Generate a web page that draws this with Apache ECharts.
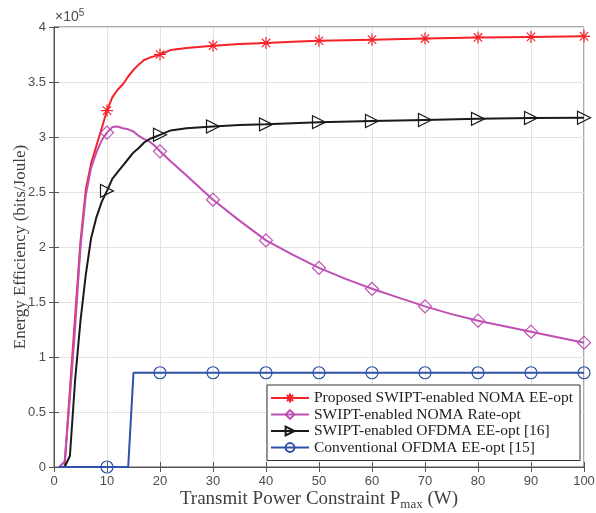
<!DOCTYPE html>
<html>
<head>
<meta charset="utf-8">
<script src="https://cdn.jsdelivr.net/npm/echarts@6/dist/echarts.min.js"></script>
<style>html,body{margin:0;padding:0;background:#fff;}#c{width:596px;height:513px;}</style>
</head>
<body>
<div id="c"></div>
<script>
// values in units of 1e5 bits/Joule
const proposedX = [1,2,3,4,5,6,7,8,9,10,11,12,13,14,15,16,17,18,19,20,22,25,30,35,40,45,50,60,70,80,90,100];
const proposedY = [0,0,0.7,1.38,2.05,2.52,2.76,2.92,3.08,3.24,3.36,3.43,3.48,3.55,3.61,3.66,3.70,3.72,3.735,3.75,3.79,3.81,3.83,3.845,3.855,3.865,3.875,3.885,3.895,3.905,3.91,3.915];

const rateX = [1,2,3,4,5,6,7,8,9,10,11,12,13,14,15,16,17,18,19,20,22,25,30,35,40,45,50,55,60,65,70,75,80,85,90,95,100];
const rateY = [0,0.05,0.63,1.28,2.0,2.47,2.72,2.86,2.97,3.04,3.09,3.095,3.08,3.07,3.05,3.01,2.98,2.96,2.92,2.87,2.78,2.65,2.43,2.24,2.06,1.93,1.81,1.71,1.62,1.54,1.46,1.39,1.33,1.28,1.23,1.18,1.13];

const ofdmaX = [1,2,3,4,5,6,7,8,9,10,11,12,13,14,15,16,17,18,19,20,22,25,30,35,40,50,60,70,80,90,100];
const ofdmaY = [0,0,0.1,0.8,1.33,1.75,2.08,2.27,2.41,2.51,2.62,2.68,2.74,2.80,2.86,2.90,2.95,2.98,3.0,3.02,3.06,3.08,3.095,3.11,3.115,3.135,3.145,3.155,3.165,3.172,3.175];

const convX = [1,10,14,15,20,30,40,50,60,70,80,90,100];
const convY = [0,0,0,0.857,0.857,0.857,0.857,0.857,0.857,0.857,0.857,0.857,0.857];

const seriesNames = [
  'Proposed SWIPT-enabled NOMA EE-opt',
  'SWIPT-enabled NOMA Rate-opt',
  'SWIPT-enabled OFDMA EE-opt [16]',
  'Conventional OFDMA EE-opt [15]'
];
const xTicks = {min:0, max:100, interval:10};
const yTicks = {min:0, max:4, interval:0.5};

function mk(xs, ys){
  return xs.map((x,i)=> x % 10 === 0 ? {value:[x, ys[i]]} : {value:[x, ys[i]], symbol:'none'});
}
const asterisk = 'path://M0,-10L0,10M-10,0L10,0M-7,-7L7,7M-7,7L7,-7';

const chart = echarts.init(document.getElementById('c'), null, {renderer:'canvas'});
const axisLbl = {fontFamily:'Liberation Sans, Arial', fontSize:13, color:'#4d4d4d'};
const serif = 'Liberation Serif, Times New Roman';

function lineSeries(name, color, data, symbol, size, rotate){
  return {
    name, type:'line', data, symbol, symbolSize:size, symbolRotate:rotate||0,
    showSymbol:true, showAllSymbol:true, smooth:false,
    lineStyle:{color, width:2},
    itemStyle:{color:'rgba(255,255,255,0)', borderColor:color, borderWidth:1.2},
    color, z:2, animation:false
  };
}

chart.setOption({
  animation:false,
  grid:{left:54, right:12, top:27, bottom:46, show:true, borderColor:'#555', borderWidth:1, backgroundColor:'#fff', containLabel:false, outerBoundsMode:'none'},
  xAxis:[{
    type:'value', min:xTicks.min, max:xTicks.max, interval:xTicks.interval,
    axisLine:{show:true, lineStyle:{color:'#555'}},
    axisTick:{inside:true, length:5, lineStyle:{color:'#555'}},
    axisLabel:Object.assign({margin:8}, axisLbl),
    splitLine:{show:true, lineStyle:{color:'#e3e3e3'}},
    name:'{a|Transmit Power Constraint P}{s|max}{a| (W)}',
    nameLocation:'middle', nameGap:21, nameMoveOverlap:false,
    nameTextStyle:{rich:{
      a:{fontFamily:serif, fontSize:19, color:'#404040', lineHeight:22},
      s:{fontFamily:serif, fontSize:13, color:'#404040', lineHeight:22, padding:[11,0,0,0]}
    }}
  },{
    type:'value', position:'top', min:xTicks.min, max:xTicks.max, interval:xTicks.interval,
    axisLine:{show:true, lineStyle:{color:'#555'}},
    axisTick:{inside:true, length:5, lineStyle:{color:'#555'}},
    axisLabel:{show:false}, splitLine:{show:false}
  }],
  yAxis:[{
    type:'value', min:yTicks.min, max:yTicks.max, interval:yTicks.interval,
    axisLine:{show:true, lineStyle:{color:'#555'}},
    axisTick:{show:true, inside:true, length:5, lineStyle:{color:'#555'}},
    axisLabel:Object.assign({margin:8}, axisLbl),
    splitLine:{show:true, lineStyle:{color:'#e3e3e3'}},
    name:'Energy Efficiency (bits/Joule)', nameLocation:'middle', nameGap:25, nameMoveOverlap:false,
    nameTextStyle:{fontFamily:serif, fontSize:17, color:'#404040'}
  },{
    type:'value', position:'right', min:yTicks.min, max:yTicks.max, interval:yTicks.interval,
    axisLine:{show:true, lineStyle:{color:'#555'}},
    axisTick:{show:true, inside:true, length:5, lineStyle:{color:'#555'}},
    axisLabel:{show:false}, splitLine:{show:false}
  }],
  legend:{
    left:267, top:385, orient:'vertical', itemWidth:38, itemHeight:11, itemGap:0.5,
    padding:[5,7,5,3], backgroundColor:'#fff', borderColor:'#333', borderWidth:1,
    textStyle:{fontFamily:serif, fontSize:15.5, color:'#222'},
    data:seriesNames
  },
  graphic:[{
    type:'text', left:55, top:8,
    style:{text:'{a|×10}{b|5}', rich:{
      a:{fontFamily:'Liberation Sans, Arial', fontSize:14, fill:'#4d4d4d'},
      b:{fontFamily:'Liberation Sans, Arial', fontSize:10, fill:'#4d4d4d', padding:[0,0,8,0]}
    }}
  }],
  series:[
    lineSeries(seriesNames[0], '#f5222a', mk(proposedX, proposedY), asterisk, 12),
    lineSeries(seriesNames[1], '#bf4fb5', mk(rateX, rateY), 'diamond', 13),
    lineSeries(seriesNames[2], '#1a1a1a', mk(ofdmaX, ofdmaY), 'triangle', 13, -90),
    lineSeries(seriesNames[3], '#2f52a8', mk(convX, convY), 'circle', 12)
  ]
});
</script>
</body>
</html>
